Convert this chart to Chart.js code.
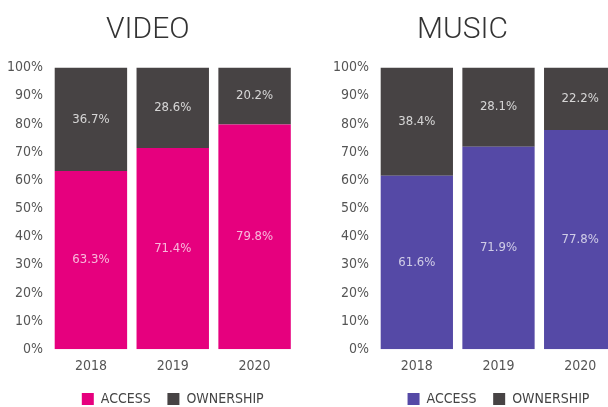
<!DOCTYPE html>
<html>
<head>
<meta charset="utf-8">
<script src="https://cdn.jsdelivr.net/npm/chart.js@4"></script>
<style>
    html, body { margin: 0; padding: 0; background: #fff; overflow: hidden; width: 608px; height: 407px; }
    canvas { position: absolute; top: 0; }
    #videoChart { left: 0; }
    #musicChart { left: 304px; }
</style>
</head>
<body>
<canvas id="videoChart" width="314" height="416"></canvas>
<canvas id="musicChart" width="356" height="416"></canvas>
<script>
var evek = ['2018', '2019', '2020'];
var videoAccess = [63.3, 71.4, 79.8];
var videoOwnership = [36.7, 28.6, 20.2];
var musicAccess = [61.6, 71.9, 77.8];
var musicOwnership = [38.4, 28.1, 22.2];
var yTicks = [0, 10, 20, 30, 40, 50, 60, 70, 80, 90, 100];

var narrow = "'DejaVu Sans Condensed', 'Liberation Sans Narrow', sans-serif";

// values written into the middle of each bar piece
var feliratok = {
    id: 'feliratok',
    afterDatasetsDraw: function (chart) {
        var ctx = chart.ctx;
        ctx.save();
        ctx.font = '13px ' + narrow;
        ctx.textAlign = 'center';
        ctx.textBaseline = 'middle';
        chart.data.datasets.forEach(function (ds, i) {
            var meta = chart.getDatasetMeta(i);
            ctx.fillStyle = ds.labelColor;
            meta.data.forEach(function (bar, j) {
                ctx.fillText(ds.data[j].toFixed(1) + '%', bar.x, (bar.y + bar.base) / 2);
            });
        });
        ctx.restore();
    }
};

// legend sits under the plot area, not under the whole canvas
var legendKozep = {
    id: 'legendKozep',
    afterLayout: function (chart) {
        var lg = chart.legend;
        var ca = chart.chartArea;
        var dx = (ca.left + ca.right) / 2 - (lg.left + lg.right) / 2;
        lg.left += dx;
        lg.right += dx;
    }
};

function chart(canvasId, cim, access, ownership, accessColor, yWidth, padRight) {
    return new Chart(document.getElementById(canvasId).getContext('2d'), {
        type: 'bar',
        data: {
            labels: evek,
            datasets: [
                {
                    label: 'ACCESS',
                    data: access,
                    backgroundColor: accessColor,
                    borderWidth: 0,
                    labelColor: 'rgba(255, 255, 255, 0.72)'
                },
                {
                    label: 'OWNERSHIP',
                    data: ownership,
                    backgroundColor: '#474344',
                    borderWidth: 0,
                    labelColor: 'rgba(230, 230, 230, 0.9)'
                }
            ]
        },
        options: {
            responsive: false,
            animation: false,
            categoryPercentage: 1,
            barPercentage: 0.885,
            layout: {
                padding: { left: 0, right: padRight, top: 0, bottom: 0 }
            },
            scales: {
                x: {
                    stacked: true,
                    border: { display: false },
                    grid: { display: false, drawTicks: false },
                    ticks: {
                        color: '#555',
                        padding: 9,
                        font: { family: narrow, size: 14 }
                    },
                    afterFit: function (s) { s.height = 26; }
                },
                y: {
                    stacked: true,
                    min: 0,
                    max: 100,
                    border: { display: false },
                    grid: { display: false, drawTicks: false },
                    afterBuildTicks: function (s) {
                        s.ticks = yTicks.map(function (v) { return { value: v }; });
                    },
                    ticks: {
                        color: '#555',
                        padding: 7,
                        font: { family: narrow, size: 14 },
                        callback: function (value) {
                            return value + '%';
                        }
                    },
                    afterFit: function (s) { s.width = yWidth; }
                }
            },
            plugins: {
                title: {
                    display: true,
                    text: cim,
                    color: '#333',
                    padding: { top: 12, bottom: 19.5 },
                    font: { family: 'Roboto', size: 30, weight: '300' }
                },
                legend: {
                    position: 'bottom',
                    labels: {
                        color: '#444',
                        boxWidth: 12,
                        boxHeight: 12,
                        padding: 16.7,
                        font: { family: narrow, size: 14 }
                    }
                },
                tooltip: { enabled: false }
            }
        },
        plugins: [feliratok, legendKozep]
    });
}

chart('videoChart', 'VIDEO', videoAccess, videoOwnership, '#E6007E', 50, 18.5);
chart('musicChart', 'MUSIC', musicAccess, musicOwnership, '#5549A6', 72, 39);
</script>
</body>
</html>
